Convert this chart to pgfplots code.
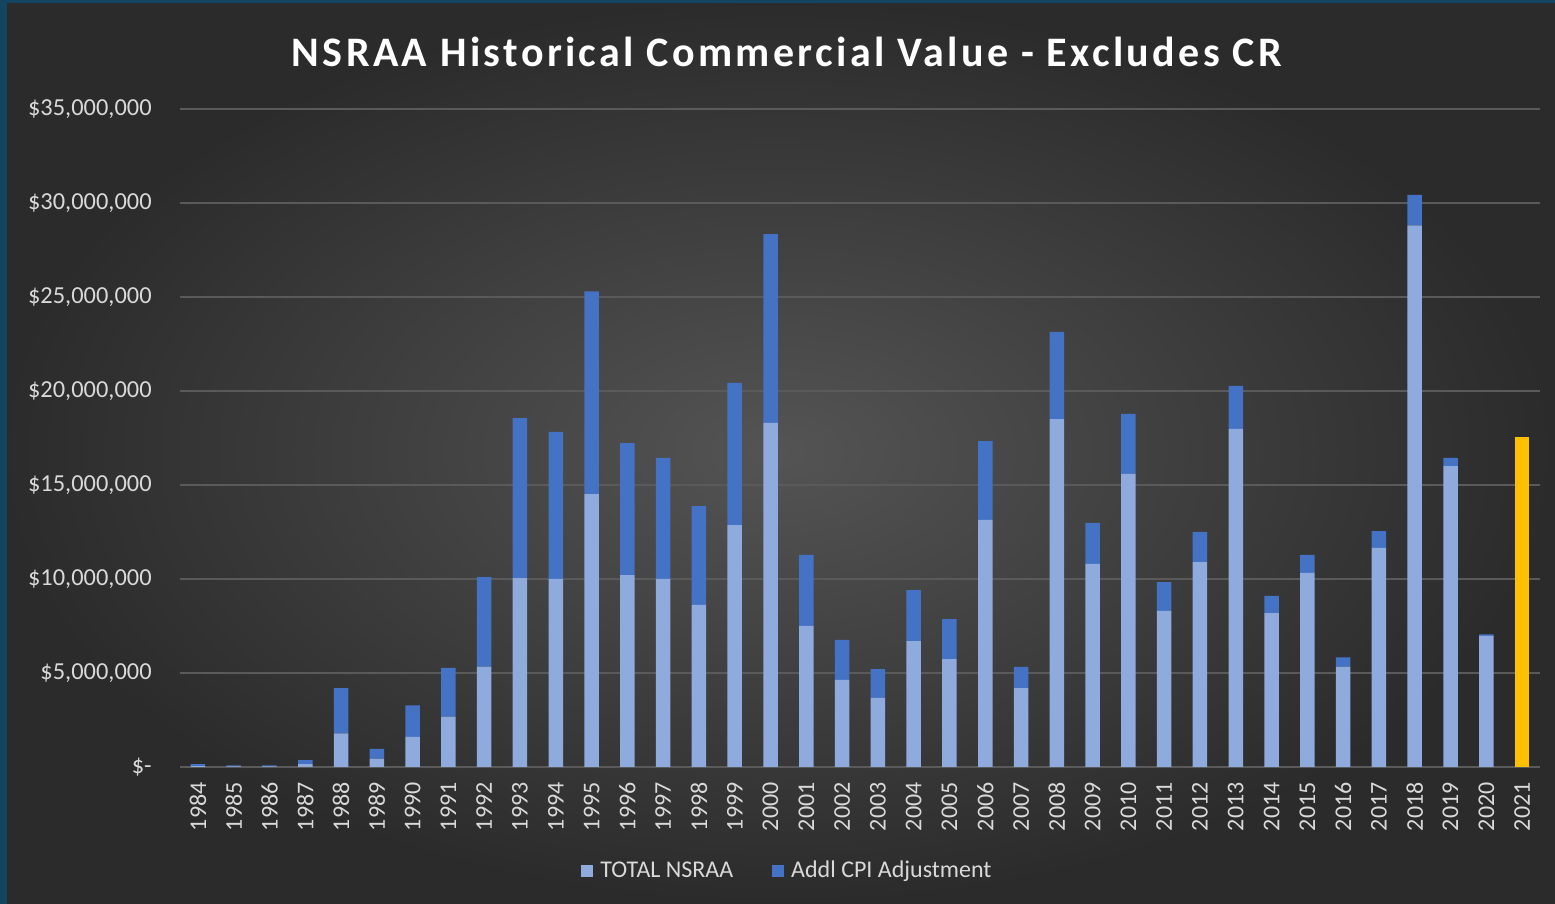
\documentclass[border=0pt]{standalone}
\usepackage{pgfplots}
\pgfplotsset{compat=1.18}
\usepackage{pgfplotstable}
\usepackage{fontspec}
\setmainfont{Carlito}
\newfontfamily\titlefont[LetterSpace=8]{Carlito}

\definecolor{lightbar}{HTML}{8FAADC}
\definecolor{darkbar}{HTML}{4472C4}
\definecolor{gold}{HTML}{FFC000}
\definecolor{labelgray}{HTML}{D9D9D9}
\definecolor{gridgray}{HTML}{5A5A5A}
\definecolor{framecol}{HTML}{124560}
\definecolor{bgin}{HTML}{545454}
\definecolor{bgout}{HTML}{2B2B2B}

% values in millions of dollars
\pgfplotstableread{
x  year total addl  proj
0  1984 0.05  0.10  0
1  1985 0.03  0.05  0
2  1986 0.03  0.05  0
3  1987 0.15  0.22  0
4  1988 1.79  2.40  0
5  1989 0.44  0.53  0
6  1990 1.60  1.68  0
7  1991 2.68  2.59  0
8  1992 5.34  4.76  0
9  1993 10.05 8.51  0
10 1994 10.00 7.82  0
11 1995 14.52 10.78 0
12 1996 10.21 7.02  0
13 1997 10.00 6.44  0
14 1998 8.62  5.26  0
15 1999 12.87 7.56  0
16 2000 18.30 10.05 0
17 2001 7.50  3.78  0
18 2002 4.63  2.13  0
19 2003 3.67  1.54  0
20 2004 6.70  2.71  0
21 2005 5.74  2.13  0
22 2006 13.14 4.20  0
23 2007 4.20  1.12  0
24 2008 18.51 4.63  0
25 2009 10.80 2.18  0
26 2010 15.59 3.19  0
27 2011 8.30  1.54  0
28 2012 10.90 1.60  0
29 2013 17.98 2.29  0
30 2014 8.19  0.91  0
31 2015 10.32 0.96  0
32 2016 5.34  0.49  0
33 2017 11.65 0.90  0
34 2018 28.81 1.62  0
35 2019 16.01 0.43  0
36 2020 6.98  0.08  0
37 2021 0     0     17.55
}\data

\begin{document}
\begin{tikzpicture}
% background and frame (1px of the reference = 0.5pt)
\useasboundingbox (0,0) rectangle (777.5pt,452pt);
\shade[inner color=bgin, outer color=bgout] (0,0) rectangle (777.5pt,452pt);
\fill[framecol] (0,0) rectangle (3.5pt,452pt);
\fill[framecol] (0,450.5pt) rectangle (777.5pt,452pt);

\node[text=white, font=\titlefont\bfseries\fontsize{21}{25}\selectfont] at (393.5pt,426pt) {NSRAA Historical Commercial Value - Excludes CR};

\begin{axis}[
    at={(90pt,68.5pt)}, anchor=south west,
    scale only axis,
    width=680pt, height=329pt,
    ybar stacked,
    bar width=7.25pt,
    xmin=-0.5, xmax=37.5,
    ymin=0, ymax=35,
    axis line style={draw=none},
    major tick length=0pt,
    ymajorgrids,
    grid style={gridgray, line width=0.75pt},
    ytick={0,5,10,15,20,25,30,35},
    yticklabels={\$-\hspace{5pt},{\$5,000,000},{\$10,000,000},{\$15,000,000},{\$20,000,000},{\$25,000,000},{\$30,000,000},{\$35,000,000}},
    yticklabel style={anchor=east, inner sep=0pt, text=labelgray, font=\fontsize{12.2}{14}\selectfont},
    yticklabel shift=14pt,
    xtick={0,...,37},
    xticklabels={1984,1985,1986,1987,1988,1989,1990,1991,1992,1993,1994,1995,1996,1997,1998,1999,2000,2001,2002,2003,2004,2005,2006,2007,2008,2009,2010,2011,2012,2013,2014,2015,2016,2017,2018,2019,2020,2021},
    xticklabel style={rotate=90, anchor=east, inner sep=0pt, text=labelgray, font=\fontsize{12}{14}\selectfont},
    xticklabel shift=7.5pt,
    legend style={at={(0.4485,-0.158)}, anchor=center, draw=none, fill=none,
        text=labelgray, font=\fontsize{12}{14}\selectfont,
        legend columns=2,
        /tikz/every even column/.append style={column sep=16pt},
        nodes={inner ysep=2pt, inner xsep=3.5pt}},
    legend image code/.code={\fill[#1] (0pt,-3pt) rectangle (6pt,3pt);},
]
\addplot[fill=lightbar, draw=none] table[x=x, y=total] {\data};
\addplot[fill=darkbar, draw=none] table[x=x, y=addl] {\data};
\addplot[fill=gold, draw=none, forget plot] table[x=x, y=proj] {\data};
\legend{TOTAL NSRAA, Addl CPI Adjustment}
\end{axis}
\end{tikzpicture}
\end{document}
